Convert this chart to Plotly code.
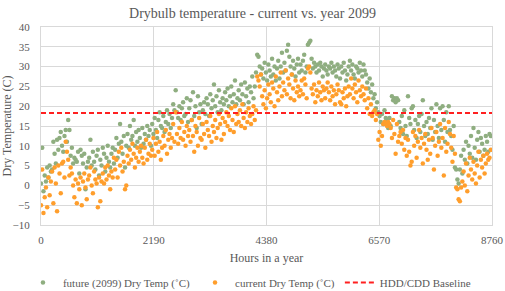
import plotly.graph_objects as go

# Daily samples (one point per 24 h)
future_2099 = [
    0.5, 9.5, -1.5, 2.5, 1.0, 4.5, 2.0, 5.0, 3.5, 4.0,
    11.0, 8.0, 5.5, 11.5, 9.0, 12.0, 13.5, 10.0, 8.5, 12.5,
    14.0, 11.0, 16.5, 14.0, 7.5, 9.5, 5.5, 7.0, 6.5, 6.0,
    8.5, 3.0, 9.0, 7.5, 5.5, 8.0, -1.0, 4.5, 6.0, 7.0,
    11.5, 5.0, 8.5, 6.0, 4.0, 7.5, 9.0, 2.5, 6.5, 5.0,
    9.5, 8.0, 3.5, 7.0, 10.0, 6.0, 4.5, 8.0, 9.5, 5.5,
    9.0, 12.0, 7.0, 10.5, 15.5, 11.0, 8.0, 12.5, 4.5, 10.0,
    13.0, 9.5, 15.0, 11.5, 12.5, 16.5, 10.0, 13.5, 11.0, 14.0,
    12.0, 9.5, 14.5, 10.5, 13.0, 11.5, 15.0, 12.5, 14.0, 10.0,
    15.5, 13.0, 17.0, 14.0, 12.0, 16.5, 18.5, 15.0, 14.5, 17.5,
    13.5, 16.0, 19.0, 15.5, 18.0, 14.5, 17.0, 20.5, 19.0, 24.0,
    18.5, 17.0, 20.0, 16.5, 19.5, 21.0, 17.5, 18.0, 22.0, 16.0,
    19.5, 21.5, 16.5, 23.5, 17.5, 20.0, 14.5, 22.5, 18.5, 20.5,
    15.5, 19.0, 21.0, 18.0, 22.0, 20.5, 17.5, 23.0, 19.5, 21.5,
    25.5, 20.0, 22.5, 18.5, 24.0, 21.0, 19.0, 22.0, 20.5, 23.5,
    21.5, 24.5, 20.0, 22.5, 25.0, 21.0, 23.0, 26.5, 20.5, 22.0,
    24.0, 21.5, 25.5, 23.0, 20.5, 26.0, 22.5, 24.5, 21.0, 25.0,
    23.5, 27.5, 22.0, 25.0, 28.5, 33.0, 32.5, 30.0, 28.0, 29.5,
    27.0, 31.0, 28.5, 26.5, 30.5, 29.0, 27.5, 32.0, 28.0, 30.0,
    26.5, 29.5, 31.5, 27.0, 30.0, 33.5, 28.5, 31.0, 29.0, 34.0,
    35.5, 32.5, 30.0, 28.0, 31.5, 29.5, 27.5, 30.5, 32.0, 28.5,
    30.5, 29.0, 31.5, 33.0, 28.5, 30.0, 35.5, 36.0, 36.5, 32.0,
    29.5, 31.0, 30.0, 28.5, 30.5, 29.0, 31.0, 30.0, 27.5, 29.5,
    30.5, 29.0, 28.0, 30.0, 29.5, 31.0, 28.5, 30.0, 29.0, 27.5,
    30.5, 29.5, 27.0, 30.0, 28.5, 31.0, 29.0, 26.5, 28.0, 30.0,
    31.5, 29.0, 30.5, 28.0, 27.0, 30.0, 29.5, 28.5, 31.0, 29.0,
    27.5, 30.5, 29.0, 28.0, 26.0, 24.5, 27.0, 23.5, 25.5, 22.0,
    23.0, 19.5, 21.0, 18.5, 17.5, 16.0, 18.0, 15.5, 19.0, 17.0,
    16.5, 14.5, 17.0, 15.0, 22.5, 21.5, 22.0, 21.0, 22.0, 21.5,
    16.0, 14.5, 17.5, 13.0, 19.0, 15.0, 12.5, 22.5, 17.0, 15.5,
    19.5, 20.0, 14.0, 16.5, 12.0, 15.5, 17.5, 13.5, 18.0, 21.5,
    15.0, 12.5, 16.0, 13.0, 17.0, 14.5, 19.5, 11.5, 16.5, 13.5,
    20.5, 15.0, 12.0, 19.5, 14.0, 20.0, 16.5, 11.0, 18.5, 13.5,
    20.0, 14.0, 12.5, 9.0, 15.0, 4.5, 4.0, 1.5, 0.5, 4.0,
    7.5, 3.0, 9.0, 6.5, 11.0, 5.5, 10.0, 8.0, 12.5, 7.0,
    14.5, 9.5, 6.5, 11.5, 13.5, 8.5, 12.0, 10.5, 7.5, 9.0,
    12.5, 11.0, 8.5, 13.0, 12.5,
]

current = [
    -5.0, 4.0, -7.0, -3.0, -0.5, -5.5, 2.0, -2.5, 1.0, 3.5,
    -4.5, 4.5, 0.5, -6.5, 5.0, 3.0, -2.0, 5.5, 6.0, 2.0,
    11.0, 8.5, 6.5, 2.5, 4.5, 3.0, 0.0, -3.0, 1.5, -4.5,
    0.5, -1.0, 2.0, -5.0, 1.0, 3.0, -0.5, -3.5, 1.5, 2.5,
    4.5, 0.0, -2.0, 3.5, 1.5, 0.5, -5.5, 2.0, -4.0, 1.0,
    3.0, 0.5, 4.5, 1.5, 5.0, 2.5, -1.0, 3.5, 2.0, 7.0,
    4.0, 6.5, 2.0, 8.5, 5.0, 9.5, 3.5, 6.0, -1.0, 0.0,
    7.5, 5.5, 9.0, 6.5, 10.5, 8.0, 4.5, 7.0, 9.5, 6.0,
    8.5, 10.0, 7.0, 5.5, 9.5, 11.5, 6.5, 8.0, 10.5, 7.5,
    9.0, 12.0, 7.5, 10.5, 13.5, 8.5, 11.0, 6.5, 9.5, 12.5,
    10.0, 14.0, 8.0, 11.5, 13.0, 9.5, 12.0, 15.5, 11.0, 18.5,
    13.0, 10.5, 14.5, 12.0, 16.0, 11.5, 13.5, 10.0, 15.0, 12.5,
    14.0, 11.0, 16.5, 12.5, 8.5, 15.0, 13.5, 10.0, 17.0, 12.0,
    11.5, 15.5, 13.0, 9.5, 16.0, 14.0, 12.5, 17.5, 11.0, 15.0,
    13.5, 16.5, 12.0, 14.5, 18.0, 15.5, 11.5, 17.0, 13.0, 16.0,
    18.5, 15.0, 17.5, 14.0, 19.5, 16.5, 13.5, 20.0, 15.5, 18.0,
    16.0, 19.0, 15.0, 20.5, 17.0, 14.5, 18.5, 16.0, 19.5, 17.5,
    15.5, 18.0, 20.0, 16.5, 19.0, 27.5, 26.5, 25.0, 28.0, 22.5,
    20.5, 24.0, 19.5, 22.0, 25.5, 23.0, 21.0, 26.0, 24.5, 20.0,
    27.5, 23.5, 21.5, 25.0, 28.5, 22.5, 26.0, 24.0, 29.0, 23.0,
    27.0, 25.5, 22.0, 28.0, 24.5, 21.5, 26.5, 23.5, 25.0, 22.5,
    24.0, 26.5, 23.0, 27.0, 25.5, 22.0, 29.5, 30.0, 28.5, 24.5,
    23.0, 25.5, 21.0, 24.0, 22.5, 26.0, 23.5, 21.5, 25.0, 24.0,
    22.0, 24.5, 26.0, 23.5, 21.5, 25.0, 22.5, 24.0, 20.5, 23.0,
    25.5, 24.0, 21.0, 20.5, 23.5, 22.0, 24.5, 20.0, 22.5, 25.0,
    23.0, 27.0, 24.5, 22.0, 25.5, 23.5, 21.0, 26.5, 24.0, 22.5,
    25.0, 23.0, 21.5, 24.5, 19.5, 22.0, 18.0, 20.5, 17.5, 18.5,
    19.0, 16.5, 18.0, 11.5, 13.5, 10.0, 12.5, 15.5, 16.0, 15.5,
    15.0, 16.0, 15.5, 14.5, 12.0, 16.5, 13.0, 8.0, 15.5, 11.0,
    12.5, 13.5, 10.5, 14.0, 9.0, 12.0, 7.5, 11.5, 8.5, 5.0,
    6.0, 13.5, 10.0, 12.5, 7.0, 11.0, 14.0, 9.5, 12.0, 5.5,
    10.5, 13.0, 9.0, 6.5, 11.5, 8.0, 14.5, 12.0, 4.0, 10.0,
    13.5, 7.5, 11.0, 15.5, 9.5, 12.0, 2.5, 14.5, 8.5, 10.5,
    16.0, 13.0, 9.5, 6.0, 12.5, 8.0, -0.5, -1.0, -3.5, -4.0,
    -0.5, 1.0, 3.5, 0.0, 5.5, -1.5, 2.5, 7.0, 4.0, 1.5,
    6.0, 3.0, 0.5, 5.0, 8.5, 2.0, 6.5, 4.5, 7.5, 3.0,
    5.5, 8.0, 6.5, 7.0, 9.0,
]

hours = [i * 24 for i in range(len(current))]

baseline_x = [0, 8760]
baseline_y = [18.3, 18.3]

x_ticks = [0, 2190, 4380, 6570, 8760]
y_ticks = list(range(-10, 45, 5))

TEXT = "#595959"
GRID = "#d9d9d9"
FONT = "Liberation Serif"

fig = go.Figure()
fig.add_trace(go.Scatter(
    x=hours, y=future_2099, mode="markers",
    name="future (2099) Dry Temp (˚C)",
    marker=dict(color="#8fae80", size=4.5, line=dict(width=0)),
))
fig.add_trace(go.Scatter(
    x=hours, y=current, mode="markers",
    name="current Dry Temp (˚C)",
    marker=dict(color="#ff9e2c", size=4.5, line=dict(width=0)),
))
fig.add_trace(go.Scatter(
    x=baseline_x, y=baseline_y, mode="lines",
    name="HDD/CDD Baseline",
    line=dict(color="#ff2020", width=2, dash="5px,3px"),
))

fig.update_layout(
    width=505, height=291,
    margin=dict(l=41, r=13, t=27, b=66, autoexpand=False),
    paper_bgcolor="white", plot_bgcolor="white",
    font=dict(family=FONT, color=TEXT, size=11),
    title=dict(text="Drybulb temperature - current vs. year 2099",
               x=0.5, xanchor="center", y=0.955, yanchor="middle",
               font=dict(family=FONT, size=14, color=TEXT)),
    showlegend=True,
    legend=dict(orientation="h", x=-0.04, xanchor="left",
                y=-0.29, yanchor="middle",
                font=dict(family=FONT, size=11, color=TEXT),
                itemwidth=30, tracegroupgap=0, bgcolor="rgba(0,0,0,0)"),
    xaxis=dict(range=[0, 8760], tickvals=x_ticks, ticktext=[str(v) for v in x_ticks],
               automargin=False,
               showgrid=True, gridcolor=GRID, gridwidth=1, zeroline=False,
               showline=True, linecolor=GRID, mirror=True,
               ticks="outside", ticklen=5, tickcolor="rgba(0,0,0,0)",
               tickfont=dict(size=11, color=TEXT),
               title=dict(text="Hours in a year", font=dict(size=12, color=TEXT), standoff=8)),
    yaxis=dict(range=[-10, 40], tickvals=y_ticks,
               automargin=False,
               showgrid=True, gridcolor=GRID, gridwidth=1, zeroline=False,
               showline=True, linecolor=GRID, mirror=True,
               ticks="outside", ticklen=8, tickcolor="rgba(0,0,0,0)",
               tickfont=dict(size=11, color=TEXT),
               title=dict(text="Dry Temperature (C)", font=dict(size=12, color=TEXT), standoff=5)),
)

fig.write_html("out.html",
               config={"displayModeBar": False},
               post_script="document.body.style.margin='0';document.body.style.padding='0';")
